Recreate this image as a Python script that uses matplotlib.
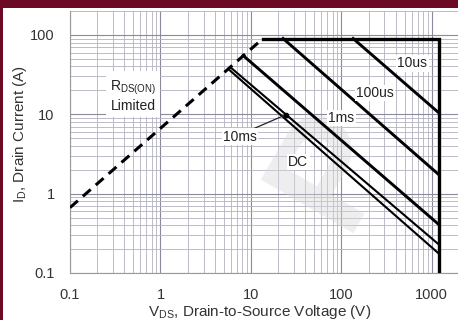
import matplotlib
matplotlib.use("Agg")
import matplotlib.pyplot as plt
import numpy as np
from matplotlib.patches import Rectangle
from matplotlib.ticker import FixedLocator, FixedFormatter, LogLocator, NullFormatter

plt.rcParams["font.family"] = ["Liberation Sans", "DejaVu Sans"]
plt.rcParams["mathtext.fontset"] = "custom"
plt.rcParams["mathtext.rm"] = "Liberation Sans"
plt.rcParams["mathtext.it"] = "Liberation Sans:italic"

# Safe operating area boundaries (V in volts, I in amperes)
rds_v = [0.1, 13.6]
rds_i = [0.667, 90]
limit_v = [13.6, 1200, 1200]
limit_i = [90, 90, 0.1]

v_10us = [135, 1200]
i_10us = [90, 10.4]
v_100us = [22.7, 1200]
i_100us = [90, 1.73]
v_1ms = [8.2, 1200]
i_1ms = [55, 0.407]
v_10ms = [5.9, 1200]
i_10ms = [39.3, 0.228]
v_dc = [5.6, 1200]
i_dc = [37.3, 0.175]

x_ticks = [0.1, 1, 10, 100, 1000]
x_tick_labels = ["0.1", "1", "10", "100", "1000"]
y_ticks = [0.1, 1, 10, 100]
y_tick_labels = ["0.1", "1", "10", "100"]

W, H = 458, 320
fig = plt.figure(figsize=(W / 100, H / 100), dpi=100)
fig.patch.set_facecolor("white")

# maroon frame strips
fig.patches.append(Rectangle((0, 1 - 8 / H), 1, 8 / H, transform=fig.transFigure,
                             facecolor="#6c0a26", edgecolor="none", zorder=0))
fig.patches.append(Rectangle((0, 0), 3 / W, 1, transform=fig.transFigure,
                             facecolor="#6c0a26", edgecolor="none", zorder=0))

ax = fig.add_axes([70 / W, 47 / H, 389 / W, 262 / H])
ax.set_xscale("log")
ax.set_yscale("log")
ax.set_xlim(0.1, 2000)
ax.set_ylim(0.1, 200)

ax.xaxis.set_major_locator(FixedLocator(x_ticks))
ax.xaxis.set_major_formatter(FixedFormatter(x_tick_labels))
ax.yaxis.set_major_locator(FixedLocator(y_ticks))
ax.yaxis.set_major_formatter(FixedFormatter(y_tick_labels))
ax.xaxis.set_minor_locator(LogLocator(base=10, subs=np.arange(2, 10), numticks=20))
ax.yaxis.set_minor_locator(LogLocator(base=10, subs=np.arange(2, 10), numticks=20))
ax.xaxis.set_minor_formatter(NullFormatter())
ax.yaxis.set_minor_formatter(NullFormatter())

ax.grid(which="major", color="#8a8a9c", lw=0.8, zorder=0)
ax.grid(which="minor", color="#b2b2c2", lw=0.6, zorder=0)
ax.set_axisbelow(True)
ax.tick_params(which="both", length=0, labelsize=10.5, colors="#333333")
ax.tick_params(axis="y", pad=11)
ax.tick_params(axis="x", pad=11)
for s in ["top", "right"]:
    ax.spines[s].set_visible(False)
for s in ["left", "bottom"]:
    ax.spines[s].set_color("#999999")
    ax.spines[s].set_linewidth(0.8)

# faint background stamp
ax.text(0.68, 0.40, "P", transform=ax.transAxes, fontsize=112, rotation=60,
        color="#d8d8d8", alpha=0.42, ha="center", va="center", zorder=1.5,
        fontweight="bold", clip_on=True)

# boundaries
ax.plot(rds_v, rds_i, color="black", lw=2.2, ls=(0, (3.4, 2.2)), zorder=3)
ax.plot(limit_v, limit_i, color="black", lw=2.4, zorder=3, solid_joinstyle="miter")
for v, i in [(v_10us, i_10us), (v_100us, i_100us), (v_1ms, i_1ms)]:
    ax.plot(v, i, color="black", lw=2.1, zorder=3)
ax.plot(v_10ms, i_10ms, color="black", lw=1.5, zorder=3)
ax.plot(v_dc, i_dc, color="black", lw=1.5, zorder=3)

# marker on the 10 ms curve with leader to its label
v_mark = 24.5
i_mark = 10 ** np.interp(np.log10(v_mark), np.log10(v_10ms), np.log10(i_10ms))
ax.plot([11.1, v_mark], [6.7, i_mark], color="#222222", lw=0.9, zorder=4)
ax.plot([v_mark], [i_mark], "o", color="black", ms=3, zorder=4)

box = dict(facecolor="white", edgecolor="none", pad=1.0)
tkw = dict(fontsize=10, color="#222222", ha="center", va="center", zorder=5, bbox=box)
ax.text(607, 44, "10us", **tkw)
ax.text(237, 18.5, "100us", **tkw)
ax.text(99.6, 9.0, "1ms", **tkw)
ax.text(7.6, 5.2, "10ms", **tkw)
ax.text(33.3, 2.5, "DC", **tkw)
ax.text(0.50, 17, "R$_{\\mathregular{DS(ON)}}$\nLimited", fontsize=10, color="#222222",
        ha="center", va="center", zorder=5, linespacing=1.2,
        bbox=dict(facecolor="white", edgecolor="none", pad=3.0))

ax.set_xlabel(r"V$_{\mathregular{DS}}$, Drain-to-Source Voltage (V)", fontsize=11, color="#333333")
ax.set_ylabel(r"I$_{\mathregular{D}}$, Drain Current (A)", fontsize=11, color="#333333")
ax.xaxis.set_label_coords((260 - 70) / 389, -(312 - 273) / 262)
ax.xaxis.label.set_va("center")
ax.yaxis.set_label_coords((20 - 70) / 389, 0.53)
ax.yaxis.label.set_va("center")

fig.savefig("out.png", dpi=100)
